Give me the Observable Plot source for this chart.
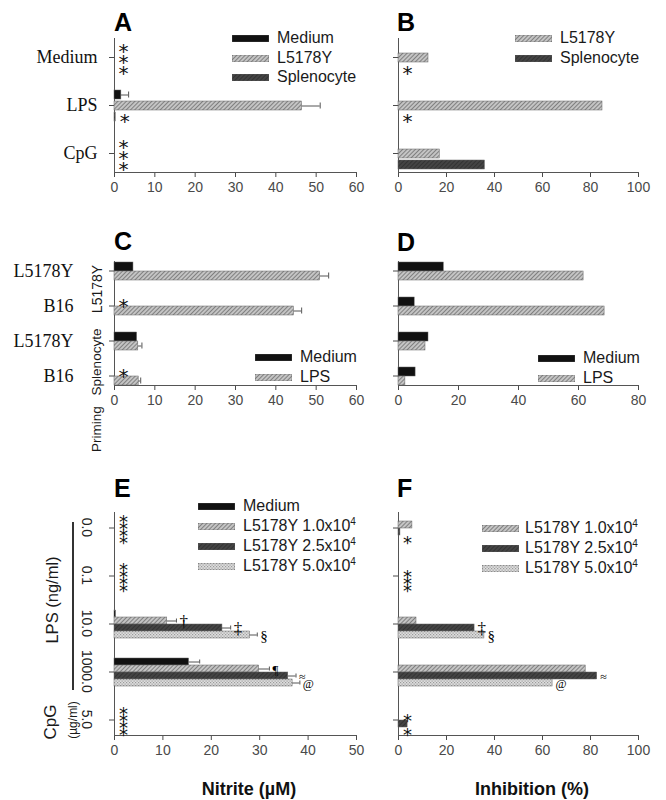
<!DOCTYPE html>
<html>
<head>
<meta charset="utf-8">
<script src="https://cdn.jsdelivr.net/npm/d3@7"></script>
<script src="https://cdn.jsdelivr.net/npm/@observablehq/plot@0.6"></script>
<style>
  body { margin: 0; background: #fff; }
  #fig { position: relative; width: 666px; height: 800px; overflow: hidden; font-family: "Liberation Sans", Arial, sans-serif; color: #1a1a1a; }
  .letter { position: absolute; font: bold 25px/25px "Liberation Sans", Arial, sans-serif; color: #000; }
  .legrow { position: absolute; white-space: nowrap; font: 16px/20px "Liberation Sans", Arial, sans-serif; color: #1a1a1a; }
  .legrow sup { font-size: 10px; vertical-align: 6px; line-height: 0; }
  .swatch { position: absolute; }
  .rot { position: absolute; white-space: nowrap; transform: translate(-50%, -50%) rotate(-90deg); font-family: "Liberation Sans", Arial, sans-serif; color: #1a1a1a; }
  .xtitle { position: absolute; font: bold 18px/18px "Liberation Sans", Arial, sans-serif; color: #111; transform: translateX(-50%); white-space: nowrap; }
</style>
</head>
<body>
<svg width="0" height="0" style="position:absolute">
  <defs>
    <pattern id="hatch" patternUnits="userSpaceOnUse" width="3" height="3" patternTransform="rotate(45)">
      <rect width="3" height="3" fill="#c4c4c4"></rect>
      <line x1="0.5" y1="0" x2="0.5" y2="3" stroke="#808080" stroke-width="1"></line>
    </pattern>
    <pattern id="dark" patternUnits="userSpaceOnUse" width="3" height="3" patternTransform="rotate(45)">
      <rect width="3" height="3" fill="#444"></rect>
      <line x1="0.5" y1="0" x2="0.5" y2="3" stroke="#333" stroke-width="1"></line>
    </pattern>
    <pattern id="dots" patternUnits="userSpaceOnUse" width="3" height="3">
      <rect width="3" height="3" fill="#dedede"></rect>
      <rect x="0" y="0" width="1.2" height="1.2" fill="#9a9a9a"></rect>
      <rect x="1.5" y="1.5" width="1.2" height="1.2" fill="#9a9a9a"></rect>
    </pattern>
  </defs>
</svg>
<div id="fig"></div>
<script>
// ================= DATA =================
// Panel A — Nitrite (µM)
const aStimuli = ["Medium", "LPS", "CpG"];
const aSeries = ["Medium", "L5178Y", "Splenocyte"];
const aMedium = [0, 1.7, 0];
const aL5178Y = [0, 46.5, 0];
const aSplenocyte = [0, 0.3, 0];
const aMediumSD = [0, 1.8, 0];
const aL5178YSD = [0, 4.5, 0];
const aSplenocyteSD = [0, 0, 0];
const aMediumSig = ["*", "", "*"];
const aL5178YSig = ["*", "", "*"];
const aSplenocyteSig = ["*", "*", "*"];
const aTicks = [0, 10, 20, 30, 40, 50, 60];

// Panel B — Inhibition (%)
const bSeries = ["Medium", "L5178Y", "Splenocyte"];
const bL5178Y = [12.5, 85, 17.2];
const bSplenocyte = [0, 0, 36];
const bL5178YSig = ["", "", ""];
const bSplenocyteSig = ["*", "*", ""];
const bTicks = [0, 20, 40, 60, 80, 100];

// Panel C — Nitrite (µM), priming x target
const cPriming = ["L5178Y", "L5178Y", "Splenocyte", "Splenocyte"];
const cTargets = ["L5178Y", "B16", "L5178Y", "B16"];
const cSeries = ["Medium", "LPS"];
const cMedium = [4.7, 0, 5.6, 0];
const cLPS = [51, 44.5, 5.9, 6.0];
const cMediumSD = [0, 0, 0, 0];
const cLPSSD = [2.1, 1.9, 0.9, 0.5];
const cMediumSig = ["", "*", "", "*"];
const cTicks = [0, 10, 20, 30, 40, 50, 60];

// Panel D — Inhibition (%)
const dMedium = [15.1, 5.4, 10, 5.7];
const dLPS = [61.7, 68.7, 9.0, 2.3];
const dTicks = [0, 20, 40, 60, 80];

// Panel E — Nitrite (µM), LPS / CpG doses
const eDoses = ["0.0", "0.1", "10.0", "1000.0", "5.0"];
const eGroups = ["LPS (ng/ml)", "LPS (ng/ml)", "LPS (ng/ml)", "LPS (ng/ml)", "CpG (µg/ml)"];
const eSeries = ["Medium", "L5178Y 1.0x10⁴", "L5178Y 2.5x10⁴", "L5178Y 5.0x10⁴"];
const eMedium = [0, 0, 0.3, 15.4, 0];
const eL10 = [0, 0, 10.9, 29.9, 0];
const eL25 = [0, 0, 22.3, 35.9, 0];
const eL50 = [0, 0, 28.0, 36.8, 0];
const eMediumSD = [0, 0, 0, 2.2, 0];
const eL10SD = [0, 0, 1.9, 2.1, 0];
const eL25SD = [0, 0, 1.7, 1.6, 0];
const eL50SD = [0, 0, 1.5, 1.5, 0];
const eMediumSig = ["*", "*", "", "", "*"];
const eL10Sig = ["*", "*", "†", "¶", "*"];
const eL25Sig = ["*", "*", "‡", "≈", "*"];
const eL50Sig = ["*", "*", "§", "@", "*"];
const eTicks = [0, 10, 20, 30, 40, 50];

// Panel F — Inhibition (%)
const fL10 = [5.8, 0, 7.5, 78, 0];
const fL25 = [0.8, 0, 31.7, 82.8, 3.8];
const fL50 = [0, 0, 35.8, 64.2, 0];
const fL10Sig = ["", "*", "", "", "*"];
const fL25Sig = ["", "*", "‡", "≈", ""];
const fL50Sig = ["*", "*", "§", "@", "*"];
const fTicks = [0, 20, 40, 60, 80, 100];

// ================= HELPERS =================
const SANS = "'Liberation Sans', Arial, sans-serif";
const SERIF = "'Liberation Serif', 'Times New Roman', serif";
const FILL = {
  black: "#111",
  hatch: "url(#hatch)",
  dark: "url(#dark)",
  dots: "url(#dots)"
};
const SYMBOL_SIZE = {"†": 17, "‡": 17, "§": 15, "¶": 13, "≈": 12, "@": 12};
const fig = document.getElementById("fig");

function table(cats, series, values, sds, sigs) {
  const rows = [];
  series.forEach((s, j) => {
    if (!values[j]) return;
    cats.forEach((c, i) => {
      rows.push({
        cat: c, series: s,
        value: values[j][i],
        sd: sds && sds[j] ? sds[j][i] : 0,
        sig: sigs && sigs[j] ? sigs[j][i] : ""
      });
    });
  });
  return rows;
}

function panel(cfg) {
  const rows = cfg.rows;
  const starSize = cfg.starSize || 20;
  const svg = Plot.plot({
    width: cfg.width, height: cfg.height,
    marginTop: cfg.mTop, marginBottom: cfg.mBottom, marginLeft: cfg.mLeft, marginRight: cfg.mRight,
    style: {fontFamily: SANS, fontSize: "14px", color: "#4a4a4a", background: "transparent", overflow: "visible"},
    facet: {data: rows, y: "cat"},
    fy: {domain: cfg.cats, paddingInner: cfg.fyIn, paddingOuter: cfg.fyOut, axis: "left", label: null,
         tickSize: 5, tickPadding: cfg.labelPad, tickFormat: cfg.labelFormat},
    y: {domain: cfg.series, padding: cfg.yPad, axis: null},
    x: {domain: [cfg.ticks[0], cfg.ticks[cfg.ticks.length - 1]], ticks: cfg.ticks, tickSize: 5, tickPadding: 5, label: null},
    color: {type: "ordinal", domain: cfg.series, range: cfg.fills},
    marks: [
      Plot.frame({anchor: "left", facet: "super", stroke: "#555"}),
      Plot.frame({anchor: "bottom", facet: "super", stroke: "#555"}),
      Plot.barX(rows, {filter: d => d.value > 0, x: "value", y: "series", fill: "series", stroke: "#666", strokeWidth: 0.5}),
      Plot.ruleY(rows, {filter: d => d.sd > 0, x1: "value", x2: d => d.value + d.sd, y: "series", stroke: "#555", strokeWidth: 1}),
      Plot.tickX(rows, {filter: d => d.sd > 0, x: d => d.value + d.sd, y: "series", stroke: "#555", strokeWidth: 1, insetTop: 1.5, insetBottom: 1.5}),
      Plot.text(rows, {filter: d => d.sig === "*", x: "value", y: "series", text: d => "*", dx: 9, dy: starSize * 0.25,
        fontSize: starSize, fontFamily: "DejaVu Sans", fill: "#111"}),
      Plot.text(rows, {filter: d => d.sig && d.sig !== "*", x: d => d.value + d.sd, y: "series", text: "sig",
        textAnchor: "start", dx: 3, dy: 1, fontSize: d => SYMBOL_SIZE[d.sig] || 13, fontFamily: SERIF, fill: "#000"})
    ]
  });
  svg.style.position = "absolute";
  svg.style.left = cfg.left + "px";
  svg.style.top = cfg.top + "px";
  fig.appendChild(svg);

  // style the facet (category) tick labels
  const texts = svg.querySelectorAll('[aria-label^="fy-axis"] text');
  texts.forEach(t => {
    t.style.fontFamily = cfg.labelFont || SANS;
    t.style.fontSize = (cfg.labelSize || 14) + "px";
    t.style.fill = cfg.labelColor || "#111";
  });
  if (cfg.rotateLabels) {
    const sr = svg.getBoundingClientRect();
    texts.forEach(t => {
      const bb = t.getBBox();
      const cx = bb.x + bb.width / 2, cy = bb.y + bb.height / 2;
      const r = t.getBoundingClientRect();
      const cur = r.left + r.width / 2 - sr.left;
      const dx = (cfg.mLeft - cfg.rotateLabels) - cur;
      const prev = t.getAttribute("transform") || "";
      t.setAttribute("transform", `${prev} translate(${dx},0) rotate(90 ${cx} ${cy})`);
    });
  }
  return svg;
}

function letter(txt, left, baseline) {
  const d = document.createElement("div");
  d.className = "letter";
  d.textContent = txt;
  d.style.left = left + "px";
  d.style.top = (baseline - 21) + "px";
  fig.appendChild(d);
}

function legend(labels, fills, swatchX, textX, yCenters) {
  labels.forEach((lab, i) => {
    const yc = yCenters[i];
    const sw = document.createElementNS("http://www.w3.org/2000/svg", "svg");
    sw.setAttribute("width", 37); sw.setAttribute("height", 7);
    sw.setAttribute("class", "swatch");
    sw.style.left = swatchX + "px"; sw.style.top = (yc - 3.5) + "px";
    const r = document.createElementNS("http://www.w3.org/2000/svg", "rect");
    r.setAttribute("width", 37); r.setAttribute("height", 7);
    r.setAttribute("fill", fills[i]);
    r.setAttribute("stroke", "#666"); r.setAttribute("stroke-width", 0.5);
    sw.appendChild(r);
    fig.appendChild(sw);
    const t = document.createElement("div");
    t.className = "legrow";
    t.innerHTML = lab.replace("⁴", "<sup>4</sup>");
    t.style.left = textX + "px"; t.style.top = (yc - 10) + "px";
    fig.appendChild(t);
  });
}

function rotLabel(txt, cx, cy, size) {
  const d = document.createElement("div");
  d.className = "rot";
  d.textContent = txt;
  d.style.left = cx + "px"; d.style.top = cy + "px";
  d.style.fontSize = size + "px"; d.style.lineHeight = size + "px";
  fig.appendChild(d);
}

function xTitle(txt, cx, top) {
  const d = document.createElement("div");
  d.className = "xtitle";
  d.textContent = txt;
  d.style.left = cx + "px"; d.style.top = top + "px";
  fig.appendChild(d);
}

// ================= PANELS =================
// A
panel({
  rows: table(aStimuli, aSeries, [aMedium, aL5178Y, aSplenocyte], [aMediumSD, aL5178YSD, aSplenocyteSD], [aMediumSig, aL5178YSig, aSplenocyteSig]),
  cats: aStimuli, series: aSeries, fills: [FILL.black, FILL.hatch, FILL.dark], ticks: aTicks,
  left: 0, top: 0, width: 370, height: 205, mTop: 33, mBottom: 27, mLeft: 114, mRight: 14,
  fyIn: 0.2, fyOut: 0.1, yPad: 0.2, labelPad: 12, labelFont: SERIF, labelSize: 18, labelFormat: d => d
});
letter("A", 114, 31);
legend(aSeries, [FILL.black, FILL.hatch, FILL.dark], 232, 277, [38, 58, 77]);

// B
panel({
  rows: table(aStimuli, bSeries, [null, bL5178Y, bSplenocyte], null, [null, bL5178YSig, bSplenocyteSig]),
  cats: aStimuli, series: bSeries, fills: [FILL.black, FILL.hatch, FILL.dark], ticks: bTicks,
  left: 340, top: 0, width: 326, height: 205, mTop: 33, mBottom: 27, mLeft: 58, mRight: 28,
  fyIn: 0.2, fyOut: 0.1, yPad: 0.2, labelPad: 8, labelFormat: () => ""
});
letter("B", 397, 31);
legend(bSeries.slice(1), [FILL.hatch, FILL.dark], 515, 560, [38, 58]);

// C
const cKeys = cPriming.map((p, i) => p + "|" + cTargets[i]);
panel({
  rows: table(cKeys, cSeries, [cMedium, cLPS], [cMediumSD, cLPSSD], [cMediumSig, null]),
  cats: cKeys, series: cSeries, fills: [FILL.black, FILL.hatch], ticks: cTicks,
  left: 0, top: 210, width: 370, height: 215, mTop: 42, mBottom: 30, mLeft: 114, mRight: 14,
  fyIn: 0.45, fyOut: 0.225, yPad: 0.05, labelPad: 36, labelFont: SERIF, labelSize: 18, labelFormat: d => d.split("|")[1]
});
letter("C", 114, 250);
legend(cSeries, [FILL.black, FILL.hatch], 255, 300, [357, 377]);
rotLabel(cPriming[0], 97, 289, 14);
rotLabel(cPriming[2], 97, 362, 13.5);
rotLabel("Priming", 97, 429, 13.5);

// D
panel({
  rows: table(cKeys, cSeries, [dMedium, dLPS], null, null),
  cats: cKeys, series: cSeries, fills: [FILL.black, FILL.hatch], ticks: dTicks,
  left: 340, top: 210, width: 326, height: 215, mTop: 42, mBottom: 30, mLeft: 58, mRight: 28,
  fyIn: 0.45, fyOut: 0.225, yPad: 0.05, labelPad: 8, labelFormat: () => ""
});
letter("D", 397, 251);
legend(cSeries, [FILL.black, FILL.hatch], 538, 583, [358, 378]);

// E
const eFills = [FILL.black, FILL.hatch, FILL.dark, FILL.dots];
panel({
  rows: table(eDoses, eSeries, [eMedium, eL10, eL25, eL50], [eMediumSD, eL10SD, eL25SD, eL50SD], [eMediumSig, eL10Sig, eL25Sig, eL50Sig]),
  cats: eDoses, series: eSeries, fills: eFills, ticks: eTicks,
  left: 0, top: 460, width: 370, height: 310, mTop: 43, mBottom: 27, mLeft: 114, mRight: 14,
  fyIn: 0.36, fyOut: 0.18, yPad: 0.05, labelPad: 10, labelFont: SANS, labelSize: 14, labelColor: "#222",
  labelFormat: d => d, rotateLabels: 27, starSize: 18
});
letter("E", 114, 497);
legend(eSeries, eFills, 198, 243, [506, 526, 546, 566]);
xTitle("Nitrite (µM)", 249, 780);
// group labels at left of panel E
const lpsLabel = eGroups[0];
const cpgParts = eGroups[4].split(" ");
rotLabel(lpsLabel, 52, 600, 16.5);
rotLabel(cpgParts[0], 50, 722, 17);
rotLabel(cpgParts[1], 73, 720, 12);
const vline = document.createElement("div");
vline.style.cssText = "position:absolute;left:72px;top:522px;width:1.5px;height:168px;background:#333;";
fig.appendChild(vline);

// F
const fSeries = eSeries;
panel({
  rows: table(eDoses, fSeries, [null, fL10, fL25, fL50], null, [null, fL10Sig, fL25Sig, fL50Sig]),
  cats: eDoses, series: fSeries, fills: eFills, ticks: fTicks,
  left: 340, top: 460, width: 326, height: 310, mTop: 43, mBottom: 27, mLeft: 58, mRight: 28,
  fyIn: 0.36, fyOut: 0.18, yPad: 0.05, labelPad: 8, labelFormat: () => "", starSize: 18
});
letter("F", 397, 497);
legend(fSeries.slice(1), eFills.slice(1), 482, 525, [528, 548, 568]);
xTitle("Inhibition (%)", 532, 780);
</script>
</body>
</html>
